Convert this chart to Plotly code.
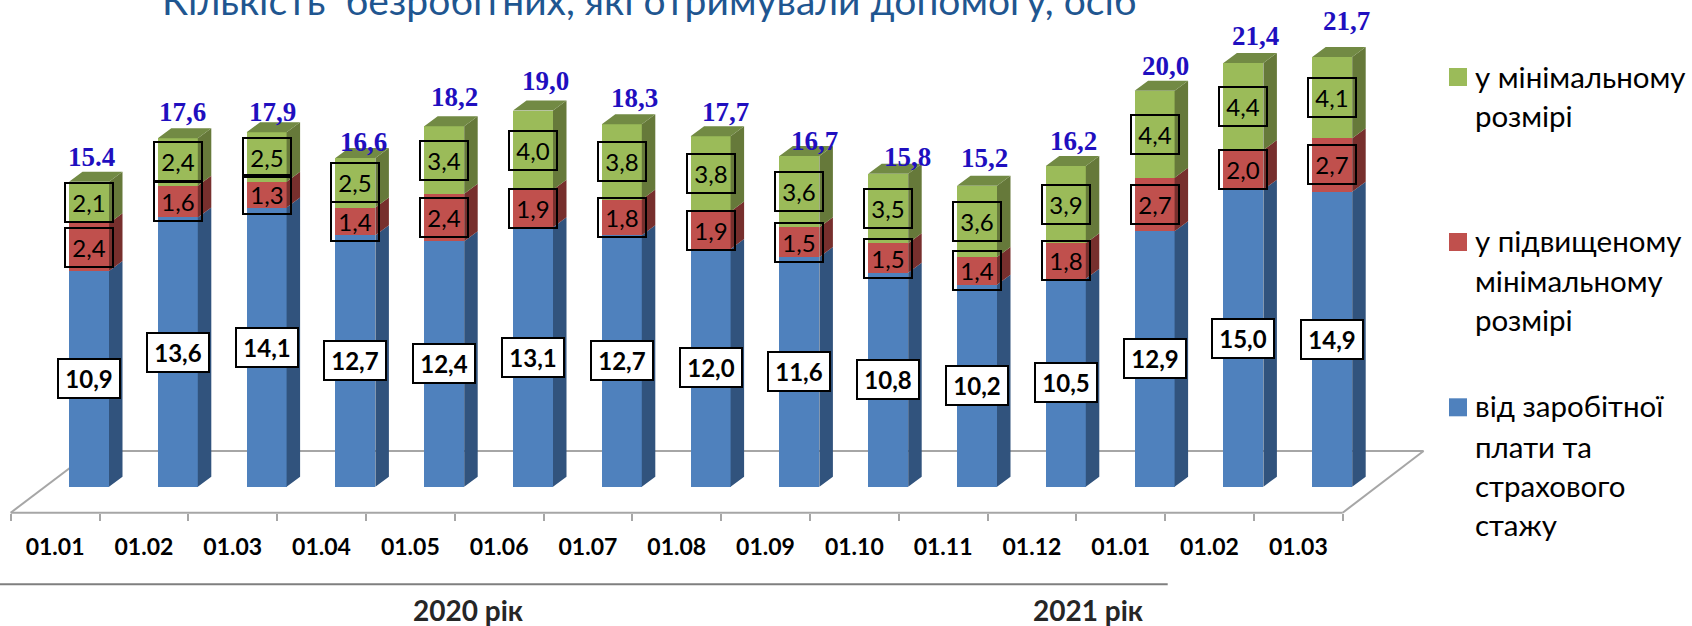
import plotly.graph_objects as go

# ---------- data ----------
categories = ["01.01", "01.02", "01.03", "01.04", "01.05", "01.06", "01.07", "01.08",
              "01.09", "01.10", "01.11", "01.12", "01.01", "01.02", "01.03"]
wage_based = [10.9, 13.6, 14.1, 12.7, 12.4, 13.1, 12.7, 12.0, 11.6, 10.8, 10.2, 10.5, 12.9, 15.0, 14.9]
raised_min = [2.4, 1.6, 1.3, 1.4, 2.4, 1.9, 1.8, 1.9, 1.5, 1.5, 1.4, 1.8, 2.7, 2.0, 2.7]
minimum = [2.1, 2.4, 2.5, 2.5, 3.4, 4.0, 3.8, 3.8, 3.6, 3.5, 3.6, 3.9, 4.4, 4.4, 4.1]
total_labels = ["15.4", "17,6", "17,9", "16,6", "18,2", "19,0", "18,3", "17,7",
                "16,7", "15,8", "15,2", "16,2", "20,0", "21,4", "21,7"]
title_text = "Кількість\u00a0\u00a0безробітних, які отримували допомогу, осіб"

# ---------- hand placement of the total labels, in pixels from the bar's top centre ----------
total_dx = [2.5, 4.7, 6.3, 8.2, 10.4, 12, 12.7, 14.4, 15.2, 19.2, 7, 7.8, 10.4, 12.1, 13.8]
total_dy = [25.1, 25.9, 20, 15.7, 29, 29.5, 26.2, 24, 14.7, 16.4, 28.2, 24.6, 24.7, 27, 35.7]

# ---------- geometry ----------
W, H = 1692, 626
X0_PX, X_UNIT = 89.0, 88.8      # pixel of bar 0 centre, pixels per category
Y0_PX, Y_UNIT = 486.7, 19.8     # pixel of zero, pixels per value unit
BAR_W = 40 / X_UNIT
DX, DY = 13.5 / X_UNIT, 10 / Y_UNIT
FONT = "Lato, 'Open Sans', sans-serif"

BLUE, BLUE_S = "#4F81BD", "#31537D"
RED, RED_S = "#C0504D", "#772F2D"
GREEN, GREEN_S, GREEN_T = "#9BBB59", "#66793A", "#728A44"


def px_x(v):
    return v / W


def px_y(v):
    return 1 - v / H


x = list(range(len(categories)))
fig = go.Figure()

series = [("від заробітної плати та страхового стажу", wage_based, BLUE, BLUE_S),
          ("у підвищеному мінімальному розмірі", raised_min, RED, RED_S),
          ("у мінімальному розмірі", minimum, GREEN, GREEN_S)]

base = [0.0] * len(x)
for name, vals, col, side in series:
    fig.add_bar(x=x, y=vals, name=name, width=BAR_W, marker=dict(color=col, line_width=0),
                showlegend=False, hoverinfo="skip")
    px_, py_ = [], []
    for i, b, v in zip(x, base, vals):
        xr = i + BAR_W / 2
        px_ += [xr, xr + DX, xr + DX, xr, xr, None]
        py_ += [b, b + DY, b + v + DY, b + v, b, None]
    fig.add_scatter(x=px_, y=py_, mode="lines", fill="toself", fillcolor=side,
                    line=dict(width=0, color=side), showlegend=False, hoverinfo="skip")
    base = [b + v for b, v in zip(base, vals)]

tx, ty = [], []
for i, t in zip(x, base):
    xl, xr = i - BAR_W / 2, i + BAR_W / 2
    tx += [xl, xl + DX, xr + DX, xr, xl, None]
    ty += [t, t + DY, t + DY, t, t, None]
fig.add_scatter(x=tx, y=ty, mode="lines", fill="toself", fillcolor=GREEN_T,
                line=dict(width=0, color=GREEN_T), showlegend=False, hoverinfo="skip")

# ---------- value labels ----------
annotations = []
base = [0.0] * len(x)
for idx, (name, vals, col, side) in enumerate(series):
    for i, b, v in zip(x, base, vals):
        is_blue = idx == 0
        annotations.append(dict(
            x=i, y=b + v / 2, xref="x", yref="y", showarrow=False,
            text=(f"<b>{v:.1f}</b>" if is_blue else f"{v:.1f}").replace(".", ","),
            font=dict(family=FONT, size=24, color="#000000"),
            width=60 if is_blue else 46, height=37, align="center", valign="middle",
            bordercolor="#000000", borderwidth=2, borderpad=0,
            bgcolor="#FFFFFF" if is_blue else "rgba(0,0,0,0)"))
    base = [b + v for b, v in zip(base, vals)]

for i, t, lab, ddx, ddy in zip(x, base, total_labels, total_dx, total_dy):
    annotations.append(dict(
        x=i, y=t, xref="x", yref="y", xshift=ddx, yshift=ddy, showarrow=False,
        text=f"<b>{lab}</b>", font=dict(family="'Liberation Serif', serif", size=27, color="#1F0FBF"),
        xanchor="center", yanchor="middle"))

# ---------- title, group labels ----------
annotations.append(dict(x=px_x(649), y=px_y(0), xref="paper", yref="paper", showarrow=False,
                        text=title_text, font=dict(family=FONT, size=39, color="#1F5690"),
                        xanchor="center", yanchor="middle"))
for txt, cx in (("2020 рік", 468), ("2021 рік", 1088)):
    annotations.append(dict(x=px_x(cx), y=px_y(610), xref="paper", yref="paper", showarrow=False,
                            text=f"<b>{txt}</b>", font=dict(family=FONT, size=28, color="#262626"),
                            xanchor="center", yanchor="middle"))

# ---------- manual legend ----------
legend = [(GREEN, 68, ["у мінімальному", "розмірі"], [76, 115]),
          (RED, 233, ["у підвищеному", "мінімальному", "розмірі"], [240, 280, 319]),
          (BLUE, 398.3, ["від заробітної", "плати та", "страхового", "стажу"], [405, 446, 485, 524])]
shapes = []
for col, top, lines, ys in legend:
    shapes.append(dict(type="rect", xref="paper", yref="paper", x0=px_x(1449), x1=px_x(1467),
                       y0=px_y(top), y1=px_y(top + 18), fillcolor=col, line_width=0))
    for line, yy in zip(lines, ys):
        annotations.append(dict(x=px_x(1473), y=px_y(yy), xref="paper", yref="paper", showarrow=False,
                                text=line, font=dict(family=FONT, size=29.5, color="#000000"),
                                xanchor="left", yanchor="middle"))

# ---------- floor ----------
GREY = "#A6A6A6"
floor = [(10.7, 512.7, 1342.7, 512.7), (1342.7, 512.7, 1423.6, 451), (1423.6, 451, 92.3, 451),
         (92.3, 451, 10.7, 512.7)]
for a, b, c, d in floor:
    shapes.append(dict(type="line", xref="paper", yref="paper", layer="below",
                       x0=px_x(a), y0=px_y(b), x1=px_x(c), y1=px_y(d),
                       line=dict(color=GREY, width=2)))
shapes.append(dict(type="line", xref="paper", yref="paper", layer="below",
                   x0=0, x1=px_x(1167.7), y0=px_y(584.3), y1=px_y(584.3),
                   line=dict(color="#7F7F7F", width=2)))

# label positions sit midway between the tick marks of the floor's front edge
boundary_offset = (X0_PX - 10.7) / X_UNIT
fig.update_layout(
    width=W, height=H, margin=dict(l=0, r=0, t=0, b=0), autosize=False,
    paper_bgcolor="white", plot_bgcolor="rgba(0,0,0,0)", barmode="stack", showlegend=False,
    shapes=shapes, annotations=annotations,
    xaxis=dict(range=[-X0_PX / X_UNIT, (W - X0_PX) / X_UNIT], domain=[0, 1], anchor="free",
               position=px_y(512.7), showgrid=False, zeroline=False, showline=False,
               tickmode="array", tickvals=[i - boundary_offset + 0.5 for i in x], ticktext=categories,
               ticks="", ticklabelstandoff=18,
               tickfont=dict(family=FONT, size=23, color="#000000", weight="bold"),
               minor=dict(tickmode="array", tickvals=[i - boundary_offset for i in range(len(x) + 1)],
                          ticks="outside", ticklen=7, tickwidth=2, tickcolor=GREY),
               fixedrange=True),
    yaxis=dict(range=[-(H - Y0_PX) / Y_UNIT, Y0_PX / Y_UNIT], domain=[0, 1], visible=False,
               fixedrange=True),
)

fig.write_html("out.html", config={"displayModeBar": False, "responsive": False},
               post_script="document.body.style.margin='0';document.body.style.overflow='hidden';")
